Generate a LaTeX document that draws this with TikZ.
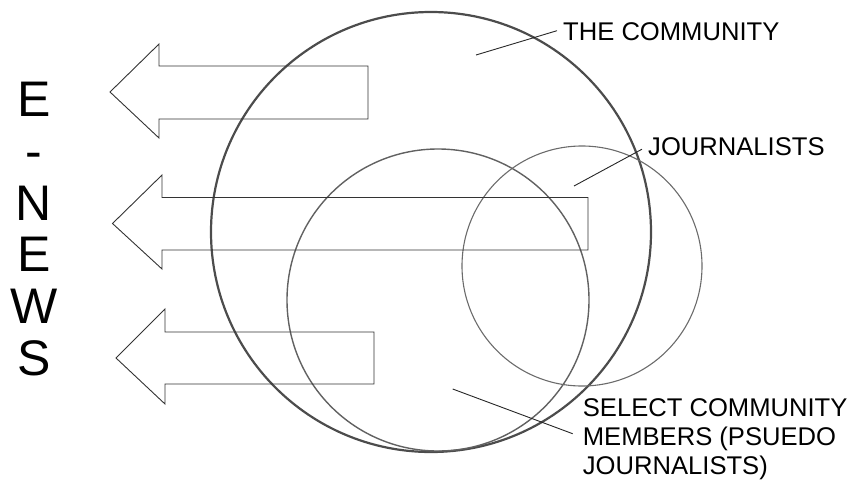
\documentclass[tikz,border=0pt]{standalone}
\usepackage{fontspec}
\setmainfont{Liberation Sans}
\begin{document}
\begin{tikzpicture}[x=1pt,y=-1pt,
  ring/.style={draw, circle, inner sep=0pt},
  bigring/.style={ring, draw=black!70, line width=2.2pt},
  midring/.style={ring, draw=black!62, line width=1.4pt},
  jring/.style={ring, draw=black!58, line width=1.1pt},
  fatarrow/.style={draw=black!80, line width=0.9pt, line join=miter},
  pointer/.style={draw=black!85, line width=0.9pt},
  label/.style={inner sep=0pt, font=\fontsize{25.6}{29}\selectfont, align=left},
  vtitle/.style={inner sep=0pt, font=\fontsize{50}{51.7}\selectfont, align=center}]
\useasboundingbox (0,0) rectangle (853,485);

% circles
\node[bigring, minimum size=440pt] (community) at (431,232) {};
\node[midring, minimum size=302pt] (members) at (438,300) {};
\node[jring, minimum size=240pt] (journalists) at (582,266) {};

% arrows
\draw[fatarrow] (110,92) -- (159,44) -- (159,66) -- (368,66) -- (368,119) -- (159,119) -- (159,138) -- cycle;
\draw[fatarrow] (112.5,223.5) -- (162,175) -- (162,197.5) -- (588,197.5) -- (588,250) -- (162,250) -- (162,269) -- cycle;
\draw[fatarrow] (116,358) -- (165,309) -- (165,332) -- (374,332) -- (374,384) -- (165,384) -- (165,404) -- cycle;

% vertical title
\node[vtitle, anchor=north] (enews) at (34,82) {E\\-\\N\\E\\W\\S};

% labels
\node[label, anchor=base west] (lcom) at (563,40.5) {THE COMMUNITY};
\node[label, anchor=base west] (ljou) at (648,155) {JOURNALISTS};
\node[label, anchor=base west] (lsel) at (582.7,474) {SELECT COMMUNITY\\MEMBERS (PSUEDO\\JOURNALISTS)};

% pointers
\coordinate (pcom) at (476,55);
\coordinate (pjou) at (574,186);
\coordinate (psel) at (452.7,389);
\draw[pointer] (pcom) -- ([xshift=-6pt,yshift=1pt]lcom.west);
\draw[pointer] (pjou) -- ([xshift=-6pt,yshift=-3pt]ljou.west);
\draw[pointer] (psel) -- ([xshift=-10pt,yshift=5pt]lsel.west);
\end{tikzpicture}
\end{document}
